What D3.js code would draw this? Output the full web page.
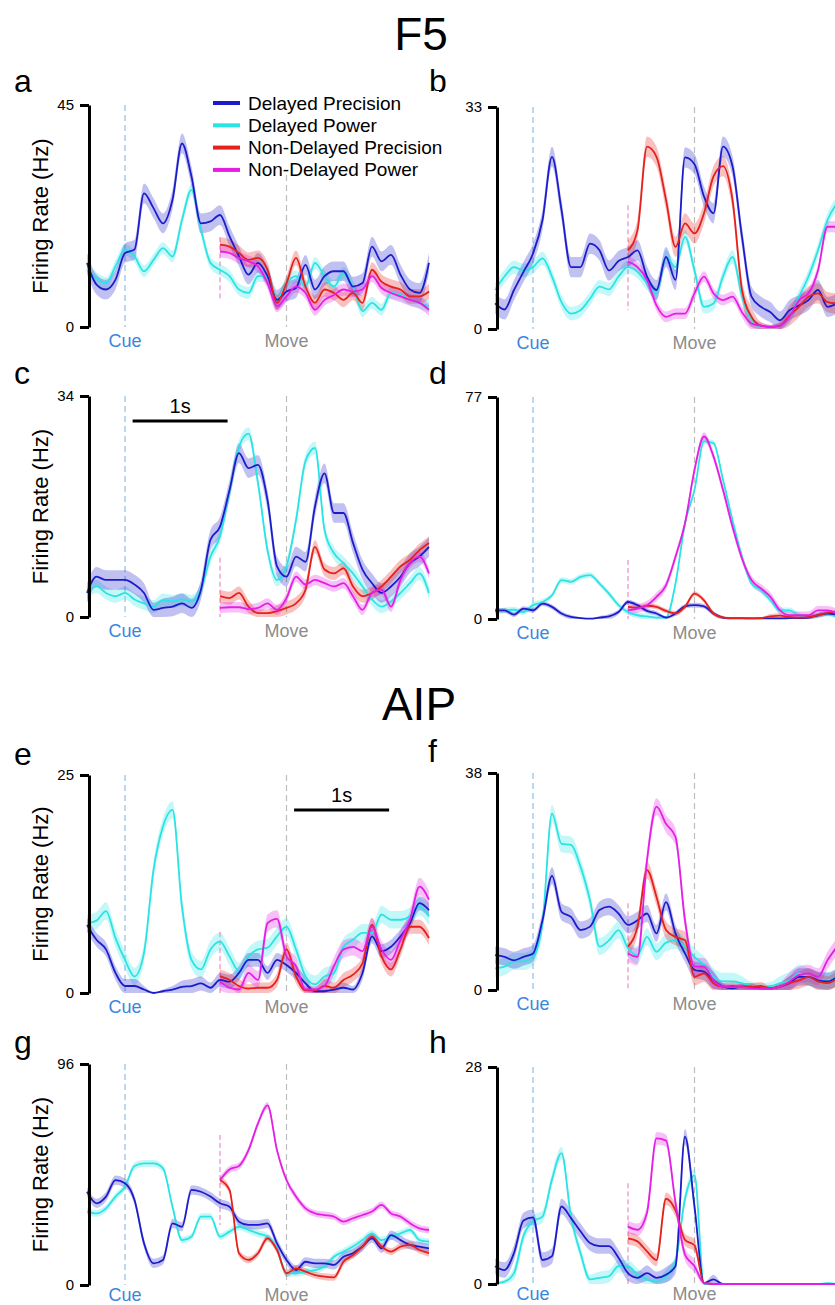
<!DOCTYPE html>
<html>
<head>
<meta charset="utf-8">
<script src="https://cdn.jsdelivr.net/npm/d3@7"></script>
<style>
  body { margin: 0; background: #fff; }
  svg { display: block; font-family: "Liberation Sans", Arial, Helvetica, sans-serif; }
</style>
</head>
<body>
<svg id="chart"></svg>
<script>
// time grids (s, relative to cue)
let tDelayed = [-0.4,-0.3,-0.2,-0.1,0,0.1,0.2,0.3,0.4,0.5,0.6,0.7,0.8,0.9,1.0,1.1,1.2,1.3,1.4,1.5,1.6,1.7,1.8,1.9,2.0,2.1,2.2,2.3,2.4,2.5,2.6,2.7,2.8,2.9,3.0,3.1,3.2];
let tNonDelayed = [1.0,1.1,1.2,1.3,1.4,1.5,1.6,1.7,1.8,1.9,2.0,2.1,2.2,2.3,2.4,2.5,2.6,2.7,2.8,2.9,3.0,3.1,3.2];

let seriesNames = ['Delayed Precision', 'Delayed Power', 'Non-Delayed Precision', 'Non-Delayed Power'];
let panelIds = ['a','b','c','d','e','f','g','h'];
let panelMax = [45, 33, 34, 77, 25, 38, 96, 28];
let cueTime = 0, moveTime = 1.7, nonDelayedStart = 1.0;

// F5
let aDelPrec = [13.0,8.6,7.6,9.6,15.0,15.7,27.1,24.1,21.0,25.8,37.2,30.5,21.0,21.4,22.7,18.4,14.3,10.6,13.0,10.3,5.5,7.2,7.9,12.6,7.6,10.3,11.3,11.3,8.2,8.9,16.3,13.3,14.6,10.6,7.6,6.9,13.0];
let aDelPow  = [11.6,9.9,8.9,12.3,15.7,14.3,11.3,13.6,16.0,14.3,21.7,27.8,19.7,13.0,11.6,10.3,7.6,6.9,10.3,10.3,5.5,8.9,10.3,8.2,13.0,10.3,8.2,10.9,8.2,3.2,4.9,3.5,6.9,6.5,5.5,4.9,4.2];
let aNonPrec = [16.7,16.3,15.0,13.6,14.0,11.6,4.9,8.9,14.0,8.2,4.9,7.6,6.9,5.5,6.9,4.9,11.6,9.2,8.2,7.6,6.2,6.2,7.2];
let aNonPow  = [15.3,15.0,14.0,13.3,12.3,8.9,4.2,6.2,8.2,6.9,3.5,5.5,6.5,7.6,7.2,7.6,10.3,7.9,6.9,6.2,5.5,4.9,3.5];

let bDelPrec = [3.8,2.9,5.8,8.5,11.2,16.2,25.6,17.7,9.2,9.2,12.7,11.7,8.7,10.1,10.7,11.7,7.8,5.8,10.7,7.3,25.5,24.5,19.7,17.2,27.1,24.2,13.7,4.8,3.3,2.5,1.3,2.8,3.5,4.3,5.8,3.3,3.8];
let bDelPow  = [5.8,7.8,9.2,8.7,9.2,10.5,7.8,4.0,2.3,2.8,4.5,6.3,5.9,7.8,9.2,8.5,6.8,5.3,10.7,9.2,13.7,8.7,3.3,3.8,7.8,10.7,4.8,1.3,0.3,0.3,0.5,1.8,4.8,7.8,11.7,16.2,18.7];
let bNonPrec = [11.7,14.7,27.1,25.6,19.2,12.2,15.7,14.2,17.2,22.7,24.2,19.2,5.8,1.8,0.5,0.3,0.5,2.0,3.3,4.8,5.3,4.0,3.8];
let bNonPow  = [10.0,9.2,7.3,3.5,1.8,2.3,2.3,5.3,7.8,5.3,4.3,4.8,2.5,0.8,0.5,0.3,0.5,1.8,4.3,5.3,8.7,15.2,15.2];

let cDelPrec = [3.7,6.2,5.7,5.7,5.7,5.0,3.7,1.1,1.4,1.6,2.1,1.4,4.2,11.9,13.9,19.5,25.2,22.9,23.4,18.0,7.8,6.2,9.3,8.5,17.0,22.1,16.0,16.0,11.4,7.3,5.2,3.7,4.7,6.2,8.3,9.3,10.8];
let cDelPow  = [3.7,4.7,3.7,3.2,3.7,2.7,2.1,1.6,2.6,2.4,2.7,2.4,4.2,9.3,12.4,19.3,26.2,28.2,20.6,10.3,5.7,7.8,14.9,24.0,26.0,13.4,9.8,8.3,6.7,4.7,2.7,1.6,2.4,3.7,5.2,6.7,3.7];
let cNonPrec = [3.2,2.9,3.7,1.6,0.6,0.6,0.9,1.4,2.1,4.2,10.8,7.3,6.7,7.5,4.7,3.2,3.7,4.7,6.2,7.8,8.8,10.3,11.4];
let cNonPow  = [1.4,1.5,1.5,1.2,1.4,2.1,1.1,2.9,6.2,5.0,5.7,5.2,4.7,5.2,3.2,1.1,3.7,4.2,1.6,5.7,8.3,9.3,6.7];

let dDelPrec = [3.0,3.0,1.5,3.6,3.0,5.3,4.2,1.9,0.7,0.3,0.1,0.5,0.9,2.4,5.9,4.8,2.8,1.9,0.5,1.9,4.4,4.8,4.4,1.9,0.5,0.2,0.2,0.2,0.2,0.2,0.2,0.3,0.3,0.5,1.3,1.9,1.5];
let dDelPow  = [2.4,3.0,3.2,2.4,4.8,5.9,8.2,13.5,12.9,14.6,15.2,12.3,8.8,4.8,2.4,1.3,0.9,0.5,0.5,12.3,33.2,44.8,61.6,61.0,48.3,34.3,21.6,12.3,10.0,6.5,3.0,3.0,1.3,0.7,1.3,1.9,0.7];
let dNonPrec = [4.2,3.9,4.6,4.2,2.8,1.9,4.2,8.8,6.5,1.9,0.5,0.3,0.3,0.2,0.3,0.9,1.2,0.7,0.5,0.7,1.3,2.1,2.4];
let dNonPow  = [3.0,3.6,4.8,7.7,11.7,21.6,33.2,51.7,63.3,56.4,44.8,32.0,21.0,13.5,10.6,7.7,3.0,1.3,1.3,1.3,3.0,3.0,1.9];

// AIP
let eDelPrec = [7.8,6.1,5.0,2.3,0.8,0.8,0.4,0.0,0.2,0.4,0.7,0.8,1.1,0.6,1.5,1.3,2.3,3.8,3.8,2.3,3.8,3.2,2.3,1.1,0.2,0.2,0.4,0.6,0.4,2.3,6.5,4.8,5.3,6.5,8.0,10.3,9.5];
let eDelPow  = [8.0,8.3,9.4,6.3,3.8,1.9,4.6,14.1,19.1,21.0,9.9,3.8,2.7,5.0,5.9,4.2,2.5,4.2,5.0,5.2,6.5,7.6,5.0,1.9,1.0,1.9,2.3,5.3,6.1,6.9,6.9,9.0,8.4,8.4,8.8,9.9,8.8];
let eNonPrec = [1.9,1.5,0.8,0.5,0.6,0.6,1.5,5.0,1.9,0.3,0.3,0.8,0.6,1.5,2.1,3.4,7.8,4.2,2.7,5.0,7.6,7.6,6.3];
let eNonPow  = [1.3,0.6,0.4,2.3,1.5,8.0,8.5,4.2,3.1,0.4,0.4,0.8,3.1,5.0,5.3,4.8,7.6,5.0,3.8,6.1,8.4,12.2,10.7];

let fDelPrec = [6.1,5.8,5.2,5.8,6.4,12.2,20.0,13.7,12.8,10.5,11.1,14.0,14.6,13.4,11.4,12.2,13.4,9.9,15.4,9.9,6.4,3.5,3.2,1.7,0.6,0.3,0.6,0.6,0.3,0.3,0.6,1.2,2.3,2.3,1.7,1.5,2.3];
let fDelPow  = [3.8,4.1,5.0,5.0,5.8,11.7,30.9,25.6,25.4,21.6,15.7,7.6,8.7,10.5,7.3,6.1,9.3,6.7,8.3,8.7,7.6,5.8,4.4,2.3,1.5,1.5,1.2,0.7,0.6,0.7,1.2,1.7,2.9,2.3,1.7,1.7,2.3];
let fNonPrec = [7.6,11.1,21.0,16.3,10.5,9.3,8.7,2.3,2.9,1.2,0.6,0.7,0.6,0.6,0.7,0.3,0.6,1.2,1.7,2.3,1.5,1.2,2.0];
let fNonPow  = [6.4,5.8,22.7,32.1,29.1,26.8,12.2,4.1,4.1,1.7,0.6,0.5,0.5,0.3,0.3,0.3,0.6,1.5,2.6,2.9,2.3,5.2,7.6];

let gDelPrec = [40.5,35.5,38.4,45.6,44.2,36.9,18.1,9.4,10.9,26.8,25.3,41.3,40.5,38.4,35.5,34.0,27.5,26.1,26.1,26.8,18.1,10.9,6.5,10.1,9.4,9.4,8.7,12.3,13.8,16.7,20.3,15.9,21.7,19.5,17.4,16.7,15.9];
let gDelPow  = [31.9,31.1,33.3,38.4,42.7,51.7,52.8,52.8,50.7,34.0,19.5,21.0,29.7,29.7,21.0,23.2,25.3,23.9,22.4,21.0,15.9,5.1,5.1,5.8,6.5,8.0,12.3,14.5,16.7,19.5,22.4,19.5,21.0,22.4,23.9,19.5,18.8];
let gNonPrec = [45.6,41.3,13.8,10.9,13.8,20.3,15.2,5.1,7.2,5.8,4.3,3.6,3.3,10.1,13.0,16.7,21.0,16.7,14.5,16.7,17.4,15.2,13.8];
let gNonPow  = [45.6,50.2,51.7,58.6,70.2,78.0,58.6,45.6,38.4,33.3,31.1,30.4,29.7,27.5,29.0,30.4,31.9,34.8,31.1,29.7,26.8,24.6,23.9];

let hDelPrec = [2.3,1.8,4.0,8.2,8.6,3.1,3.6,10.0,8.5,6.8,5.3,4.9,4.9,3.4,1.4,0.8,1.4,0.8,1.2,2.3,19.0,10.0,0.1,0.6,0,0,0,0,0,0,0,0,0,0,0,0,0];
let hDelPow  = [0.1,0.3,1.4,6.2,8.1,8.7,13.5,16.9,8.7,4.0,0.6,0.8,1.0,2.3,2.3,1.2,0.6,0.3,1.0,2.9,11.0,14.0,0,0,0,0,0,0,0,0,0,0,0,0,0,0.1,0];
let hNonPrec = [5.9,5.5,4.2,3.1,11.0,9.5,5.7,5.0,0.1,0,0,0,0,0,0,0,0,0,0,0,0,0,0];
let hNonPow  = [7.4,7.0,9.2,18.8,18.5,10.5,3.8,2.3,0.1,0,0,0,0,0,0,0,0,0,0,0,0,0,0];

// SEM (Hz) per series, in seriesNames order
let semA = [2.0, 1.2, 1.5, 1.2];
let semB = [1.5, 1.0, 1.5, 0.8];
let semC = [1.5, 1.0, 1.0, 0.8];
let semD = [0.8, 1.0, 0.8, 1.5];
let semE = [0.8, 1.0, 0.8, 1.0];
let semF = [1.5, 1.5, 1.5, 1.5];
let semG = [2.0, 1.5, 1.5, 1.5];
let semH = [1.0, 0.8, 0.8, 0.8];

// top/bottom (Hz) of the non-delayed onset marker
let ndMarks = [[18.2, 5.7], [18.4, 2.8], [9.1, 0], [20.5, 0], [7.0, 0], [15.2, 0], [65.2, 26.1], [13.0, 0]];

let width = 835;
let height = 1305;
let colors = ['#1c1ccb', '#2ae4e4', '#e6201c', '#e41ee4'];

let allSeries = [
    [aDelPrec, aDelPow, aNonPrec, aNonPow],
    [bDelPrec, bDelPow, bNonPrec, bNonPow],
    [cDelPrec, cDelPow, cNonPrec, cNonPow],
    [dDelPrec, dDelPow, dNonPrec, dNonPow],
    [eDelPrec, eDelPow, eNonPrec, eNonPow],
    [fDelPrec, fDelPow, fNonPrec, fNonPow],
    [gDelPrec, gDelPow, gNonPrec, gNonPow],
    [hDelPrec, hDelPow, hNonPrec, hNonPow]
];
let allSem = [semA, semB, semC, semD, semE, semF, semG, semH];

// layout of each panel (pixels)
let frames = [
    {left: 87,  top: 105,  zero: 327,  lx: 14,  ly: 92,   lab: 20},
    {left: 495, top: 107,  zero: 329,  lx: 429, ly: 92,   lab: 20},
    {left: 87,  top: 396,  zero: 617,  lx: 14,  ly: 384,  lab: 20},
    {left: 495, top: 397,  zero: 619,  lx: 429, ly: 384,  lab: 20},
    {left: 87,  top: 775,  zero: 993,  lx: 14,  ly: 765,  lab: 20},
    {left: 495, top: 773,  zero: 990,  lx: 428, ly: 762,  lab: 20},
    {left: 87,  top: 1064, zero: 1285, lx: 14,  ly: 1053, lab: 16},
    {left: 495, top: 1067, zero: 1284, lx: 429, ly: 1053, lab: 16}
];

let svg = d3.select('#chart')
    .attr('width', width)
    .attr('height', height);

svg.append('rect').attr('width', width).attr('height', height).attr('fill', '#fff');

svg.append('text').attr('x', 421).attr('y', 50)
    .attr('text-anchor', 'middle').style('font-size', '46px').text('F5');
svg.append('text').attr('x', 419).attr('y', 720)
    .attr('text-anchor', 'middle').style('font-size', '46px').text('AIP');

let drawPanel = (p) => {
    let f = frames[p];
    let maxV = panelMax[p];
    let series = allSeries[p];
    let sem = allSem[p];

    let xScale = d3.scaleLinear().domain([-0.4, 3.2]).range([f.left, f.left + 342]);
    let yScale = d3.scaleLinear().domain([0, maxV]).range([f.zero, f.top]);

    let g = svg.append('g').attr('class', 'panel panel-' + panelIds[p]);

    // event markers
    g.append('line')
        .attr('x1', xScale(cueTime)).attr('x2', xScale(cueTime))
        .attr('y1', yScale(maxV)).attr('y2', yScale(0))
        .attr('stroke', '#93bde8').attr('stroke-width', 1.2).attr('stroke-dasharray', '6,4');
    g.append('line')
        .attr('x1', xScale(moveTime)).attr('x2', xScale(moveTime))
        .attr('y1', yScale(maxV)).attr('y2', yScale(0))
        .attr('stroke', '#bdbdbd').attr('stroke-width', 1.2).attr('stroke-dasharray', '6,4');
    g.append('line')
        .attr('x1', xScale(nonDelayedStart)).attr('x2', xScale(nonDelayedStart))
        .attr('y1', yScale(ndMarks[p][0])).attr('y2', yScale(ndMarks[p][1]))
        .attr('stroke', '#f08cc8').attr('stroke-width', 1.2).attr('stroke-dasharray', '5,3');

    let order = [1, 0, 2, 3];
    let rows = order.map(k => {
        let ts = k < 2 ? tDelayed : tNonDelayed;
        return {k: k, pts: series[k].map((v, i) => ({t: ts[i], v: v}))};
    });

    // the band shrinks to nothing where the rate is ~0
    let half = (k, v) => Math.min(sem[k], v);
    let area = (k) => d3.area()
        .curve(d3.curveMonotoneX)
        .x(d => xScale(d.t))
        .y0(d => yScale(Math.max(0, d.v - half(k, d.v))))
        .y1(d => yScale(d.v + half(k, d.v)));
    let line = d3.line()
        .curve(d3.curveMonotoneX)
        .x(d => xScale(d.t))
        .y(d => yScale(d.v));

    rows.forEach(r => {
        g.append('path')
            .attr('d', area(r.k)(r.pts))
            .attr('fill', colors[r.k])
            .attr('fill-opacity', 0.28);
    });
    rows.forEach(r => {
        g.append('path')
            .attr('d', line(r.pts))
            .attr('fill', 'none')
            .attr('stroke', colors[r.k])
            .attr('stroke-width', 1.8);
    });

    // y axis
    let yAxis = d3.axisLeft(yScale)
        .tickValues([0, maxV])
        .tickSizeInner(9)
        .tickSizeOuter(0)
        .tickPadding(6)
        .tickFormat(d3.format('d'));
    let ax = g.append('g')
        .attr('transform', 'translate(' + (f.left + 2) + ',0)')
        .call(yAxis);
    ax.select('.domain').attr('stroke', '#000').attr('stroke-width', 3);
    ax.selectAll('.tick line').attr('stroke', '#000').attr('stroke-width', 3);
    ax.selectAll('.tick text')
        .style('font-size', '15px')
        .style('font-family', '"Liberation Sans", Arial, sans-serif')
        .attr('fill', '#000');

    // event labels
    g.append('text')
        .attr('x', xScale(cueTime)).attr('y', f.zero + f.lab)
        .attr('text-anchor', 'middle').attr('fill', '#3a86de')
        .style('font-size', '18px').text('Cue');
    g.append('text')
        .attr('x', xScale(moveTime)).attr('y', f.zero + f.lab)
        .attr('text-anchor', 'middle').attr('fill', '#8c8c8c')
        .style('font-size', '18px').text('Move');

    // y label on left column
    if (p % 2 === 0) {
        g.append('text')
            .attr('transform', 'translate(48,' + ((f.top + f.zero) / 2) + ') rotate(-90)')
            .attr('text-anchor', 'middle')
            .style('font-size', '22px')
            .text('Firing Rate (Hz)');
    }

    // panel letter
    g.append('text')
        .attr('x', f.lx).attr('y', f.ly)
        .style('font-size', '32px')
        .text(panelIds[p]);

    return xScale;
}

let scales = panelIds.map((id, p) => drawPanel(p));

// 1 s scale bars
let drawScaleBar = (p, t0, yPos) => {
    let xs = scales[p];
    svg.append('line')
        .attr('x1', xs(t0)).attr('x2', xs(t0 + 1))
        .attr('y1', yPos).attr('y2', yPos)
        .attr('stroke', '#000').attr('stroke-width', 3);
    svg.append('text')
        .attr('x', (xs(t0) + xs(t0 + 1)) / 2).attr('y', yPos - 8)
        .attr('text-anchor', 'middle')
        .style('font-size', '20px')
        .text('1s');
}
drawScaleBar(2, 0.08, 421);
drawScaleBar(4, 1.78, 810);

// legend in panel a
let drawLegend = () => {
    let legend = svg.append('g').attr('id', 'legend').attr('transform', 'translate(213,103)');
    legend.append('rect')
        .attr('x', -6).attr('y', -12)
        .attr('width', 232).attr('height', 82)
        .attr('fill', '#fff');
    seriesNames.forEach((name, i) => {
        let row = legend.append('g').attr('transform', 'translate(0,' + (i * 22.3) + ')');
        row.append('line')
            .attr('x1', 0).attr('x2', 27)
            .attr('y1', 0).attr('y2', 0)
            .attr('stroke', colors[i]).attr('stroke-width', 4);
        row.append('text')
            .attr('x', 35).attr('y', 6.5)
            .style('font-size', '19px')
            .text(name);
    });
}
drawLegend();
</script>
</body>
</html>
